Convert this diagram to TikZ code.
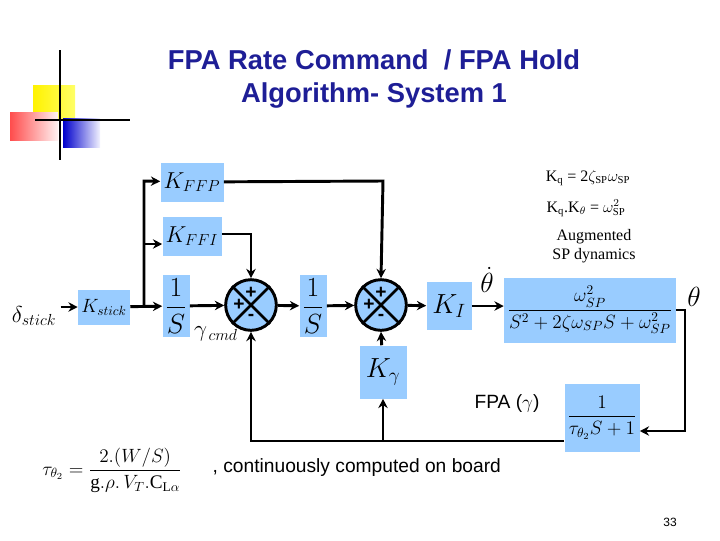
\documentclass[tikz,border=0pt]{standalone}
\usepackage{amsmath}
\usepackage{fontspec}
\setmainfont{Liberation Serif}
\newfontfamily\sans{Liberation Sans}
\usetikzlibrary{arrows.meta}
\definecolor{bx}{RGB}{153,204,255}
\definecolor{ttl}{RGB}{30,30,150}
\begin{document}
\begin{tikzpicture}[x=0.75pt,y=-0.75pt,
 blk/.style={fill=bx,draw=none,inner sep=1pt,font=\LARGE},
 ar/.style={line width=2.2pt,-{Stealth[length=7pt,width=7pt]}},
 sm/.style={circle,draw,line width=2.2pt,fill=bx,minimum size=38pt,inner sep=0pt}]
\useasboundingbox (0,0) rectangle (720,540);
% decoration
\shade[left color=yellow!90!orange,right color=yellow!60] (33,85) rectangle (75,120);
\shade[left color=red!70,right color=red!5] (10,112) rectangle (58,140);
\shade[left color=blue!80!black,right color=blue!5] (63,118) rectangle (100,147);
\draw[line width=1.5pt] (60,50) -- (60,160);
\draw[line width=1pt] (35,120) -- (130,120);
% title
\node[font=\sans\bfseries,text=ttl,scale=2.05,align=center] (t) at (374,79) {FPA Rate Command \ / FPA Hold\\Algorithm- System 1};
% blocks
\node[inner sep=0pt] (ds) at (34,316) {\LARGE$\delta_{stick}$};
\node[blk,minimum width=52pt*0.75,minimum height=35pt*0.75,font=\Large] (ks) at (104,307) {$K_{stick}$};
\node[blk,minimum width=63pt*0.75,minimum height=39pt*0.75] (kffp) at (192,182) {$K_{FFP}$};
\node[blk,minimum width=59pt*0.75,minimum height=39pt*0.75] (kffi) at (192,236) {$K_{FFI}$};
\node[blk,minimum width=27pt*0.75,minimum height=62pt*0.75,inner sep=0pt,font=\huge] (i1) at (176,306) {$\dfrac{1}{S}$};
\node (gc) at (216,334) {\LARGE$\gamma_{\,cmd}$};
\node[sm] (s1) at (251,305) {};
\node[blk,minimum width=27pt*0.75,minimum height=62pt*0.75,inner sep=0pt,font=\huge] (i2) at (313,306) {$\dfrac{1}{S}$};
\node[sm] (s2) at (381,305) {};
\node[blk,minimum width=47pt*0.75,minimum height=53pt*0.75,font=\huge] (kg) at (383,372) {$K_{\gamma}$};
\node[blk,minimum width=45pt*0.75,minimum height=48pt*0.75,font=\huge] (ki) at (449,306) {$K_{I}$};
\node[blk,minimum width=172pt*0.75,minimum height=65pt*0.75,font=\Large,inner sep=0pt] (tf) at (590,310) {$\dfrac{\omega_{SP}^2}{S^2+2\zeta\omega_{SP}S+\omega_{SP}^2}$};
\node (td) at (487,280) {\huge$\dot\theta$};
\node (th) at (694,297) {\huge$\theta$};
\node[blk,minimum width=75pt*0.75,minimum height=68pt*0.75,font=\Large,inner sep=0pt] (lag) at (602,418) {$\dfrac{1}{\tau_{\theta_2}S+1}$};
\node[font=\sans\Large] (fpa) at (507,404) {FPA ($\gamma$)};
\node[font=\large] (e1) at (588,178) {K$_{\rm q}$ = 2$\zeta_{\rm SP}\omega_{\rm SP}$};
\node[font=\large] (e2) at (586,208) {K$_{\rm q}$.K$_\theta$ = $\omega_{\rm SP}^2$};
\node[align=center,font=\large,inner sep=1pt] (aug) at (594,246) {Augmented\\SP dynamics};
\node (tau) at (112,470) {\Large$\tau_{\theta_2}=\dfrac{2.(W/S)}{\mathrm{g}.\rho.\,V_T.\mathrm{C}_{\mathrm{L}\alpha}}$};
\node[font=\sans\Large,anchor=west] (cc) at (208,468) {, continuously computed on board};
\node[font=\sans\small] (pg) at (670,522) {33};
% sum signs
\foreach \s in {s1,s2}{
 \draw[line width=2pt] (\s.north east) -- (\s.south west) (\s.north west) -- (\s.south east);
 \node[font=\sans\bfseries\Large] at ([yshift=9pt]\s.center) {+};
 \node[font=\sans\bfseries\Large] at ([xshift=-9pt]\s.center) {+};
 \node[font=\sans\bfseries\Large] at ([yshift=-9pt]\s.center) {-};
}
% connectors
\draw[ar] (ds.east|-ks) ++(3pt,0) -- (ks);
\draw[ar] (ks) -- (i1);
\draw[ar] (144,305) -- (144,181) -- (kffp);
\draw[ar] (144,244) -- (kffi.west|-0,244);
\draw[ar] (i1) -- (s1);
\draw[ar] (kffi.east|-0,234) -- (251,234) -- (s1);
\draw[ar] (s1) -- (i2);
\draw[ar] (i2) -- (s2);
\draw[ar] (kffp) -- (383,181) -- (s2.north);
\draw[ar] (kg) -- (s2.south);
\draw[ar] (s2) -- (ki);
\draw[ar] (ki) -- (tf.west|-ki);
\draw[ar] (tf.east) -- (685,310) -- (685,431) -- (lag.east|-0,431);
\draw[ar] (lag.west|-0,441) -- (251,441) -- (s1.south);
\draw[ar] (383,441) -- (kg.south);
\end{tikzpicture}
\end{document}
